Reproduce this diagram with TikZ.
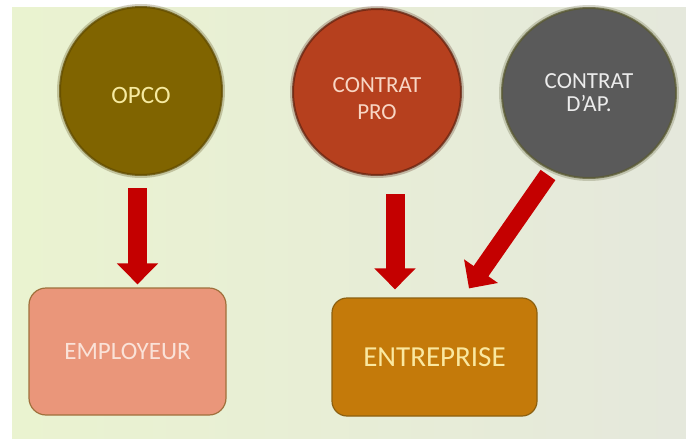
\documentclass[tikz,border=0pt]{standalone}
\usepackage{fontspec}
\setmainfont{Carlito}
\usetikzlibrary{shapes.geometric,arrows.meta}
\definecolor{bgL}{RGB}{234,243,208}
\definecolor{bgR}{RGB}{229,232,220}
\definecolor{opcoC}{RGB}{128,100,0}
\definecolor{opcoT}{RGB}{246,234,160}
\definecolor{proC}{RGB}{182,64,30}
\definecolor{proT}{RGB}{248,214,196}
\definecolor{apC}{RGB}{90,90,90}
\definecolor{apE}{RGB}{90,90,50}
\definecolor{apT}{RGB}{236,236,236}
\definecolor{empC}{RGB}{234,150,122}
\definecolor{empB}{RGB}{160,112,60}
\definecolor{empT}{RGB}{250,226,216}
\definecolor{entC}{RGB}{196,122,10}
\definecolor{entB}{RGB}{140,96,16}
\definecolor{entT}{RGB}{250,232,160}
\definecolor{arrC}{RGB}{196,0,0}
\begin{document}
\begin{tikzpicture}[x=1pt,y=-1pt,
  bubble/.style={ellipse, inner sep=0pt, align=center, line width=2pt, draw opacity=0.75,
    preaction={draw=#1, line width=6pt, draw opacity=0.25}},
  box/.style={rectangle, inner sep=0pt, align=center, line width=1.2pt},
  flow/.style={line width=19pt, draw=arrC, -{Triangle[width=40pt,length=21pt]}}]
\fill[white] (0,0) rectangle (686,439);
\shade[left color=bgL, right color=bgR] (12,7) rectangle (686,439);
\useasboundingbox (0,0) rectangle (686,439);

\node[bubble=opcoC!60!black, fill=opcoC, draw=opcoC!75!black, minimum width=162pt, minimum height=168pt,
  text=opcoT, font=\fontsize{25}{30}\selectfont, text height=24pt, text depth=0pt] (opco) at (141,91) {OPCO};
\node[bubble=proC!45!black, fill=proC, draw=proC!55!black, minimum width=168pt, minimum height=166pt,
  text=proT, font=\fontsize{23}{27}\selectfont] (pro) at (377,92) {\rule{0pt}{28pt}CONTRAT\\PRO};
\node[bubble=apE, fill=apC, draw=apE, minimum width=174pt, minimum height=170pt,
  text=apT, font=\fontsize{23}{23}\selectfont] (ap) at (589,93) {CONTRAT\\D’AP.};

\node[box, fill=empC, draw=empB, rounded corners=17pt, minimum width=197pt, minimum height=127pt,
  text=empT, font=\fontsize{25}{30}\selectfont] (emp) at (127.5,351.5) {EMPLOYEUR};
\node[box, fill=entC, draw=entB, rounded corners=15pt, minimum width=205pt, minimum height=118pt,
  text=entT, font=\fontsize{29}{34}\selectfont] (ent) at (434.5,357) {ENTREPRISE};

\draw[flow] ([xshift=-3.5pt,yshift=-12pt]opco.south) -- ([xshift=10pt,yshift=3pt]emp.north);
\draw[flow] ([xshift=18pt,yshift=-18pt]pro.south) -- ([xshift=-39.5pt,yshift=8pt]ent.north);
\draw[flow, line width=18pt] ([xshift=-41pt,yshift=4pt]ap.south) -- ([xshift=34.5pt,yshift=9pt]ent.north);
\end{tikzpicture}
\end{document}
